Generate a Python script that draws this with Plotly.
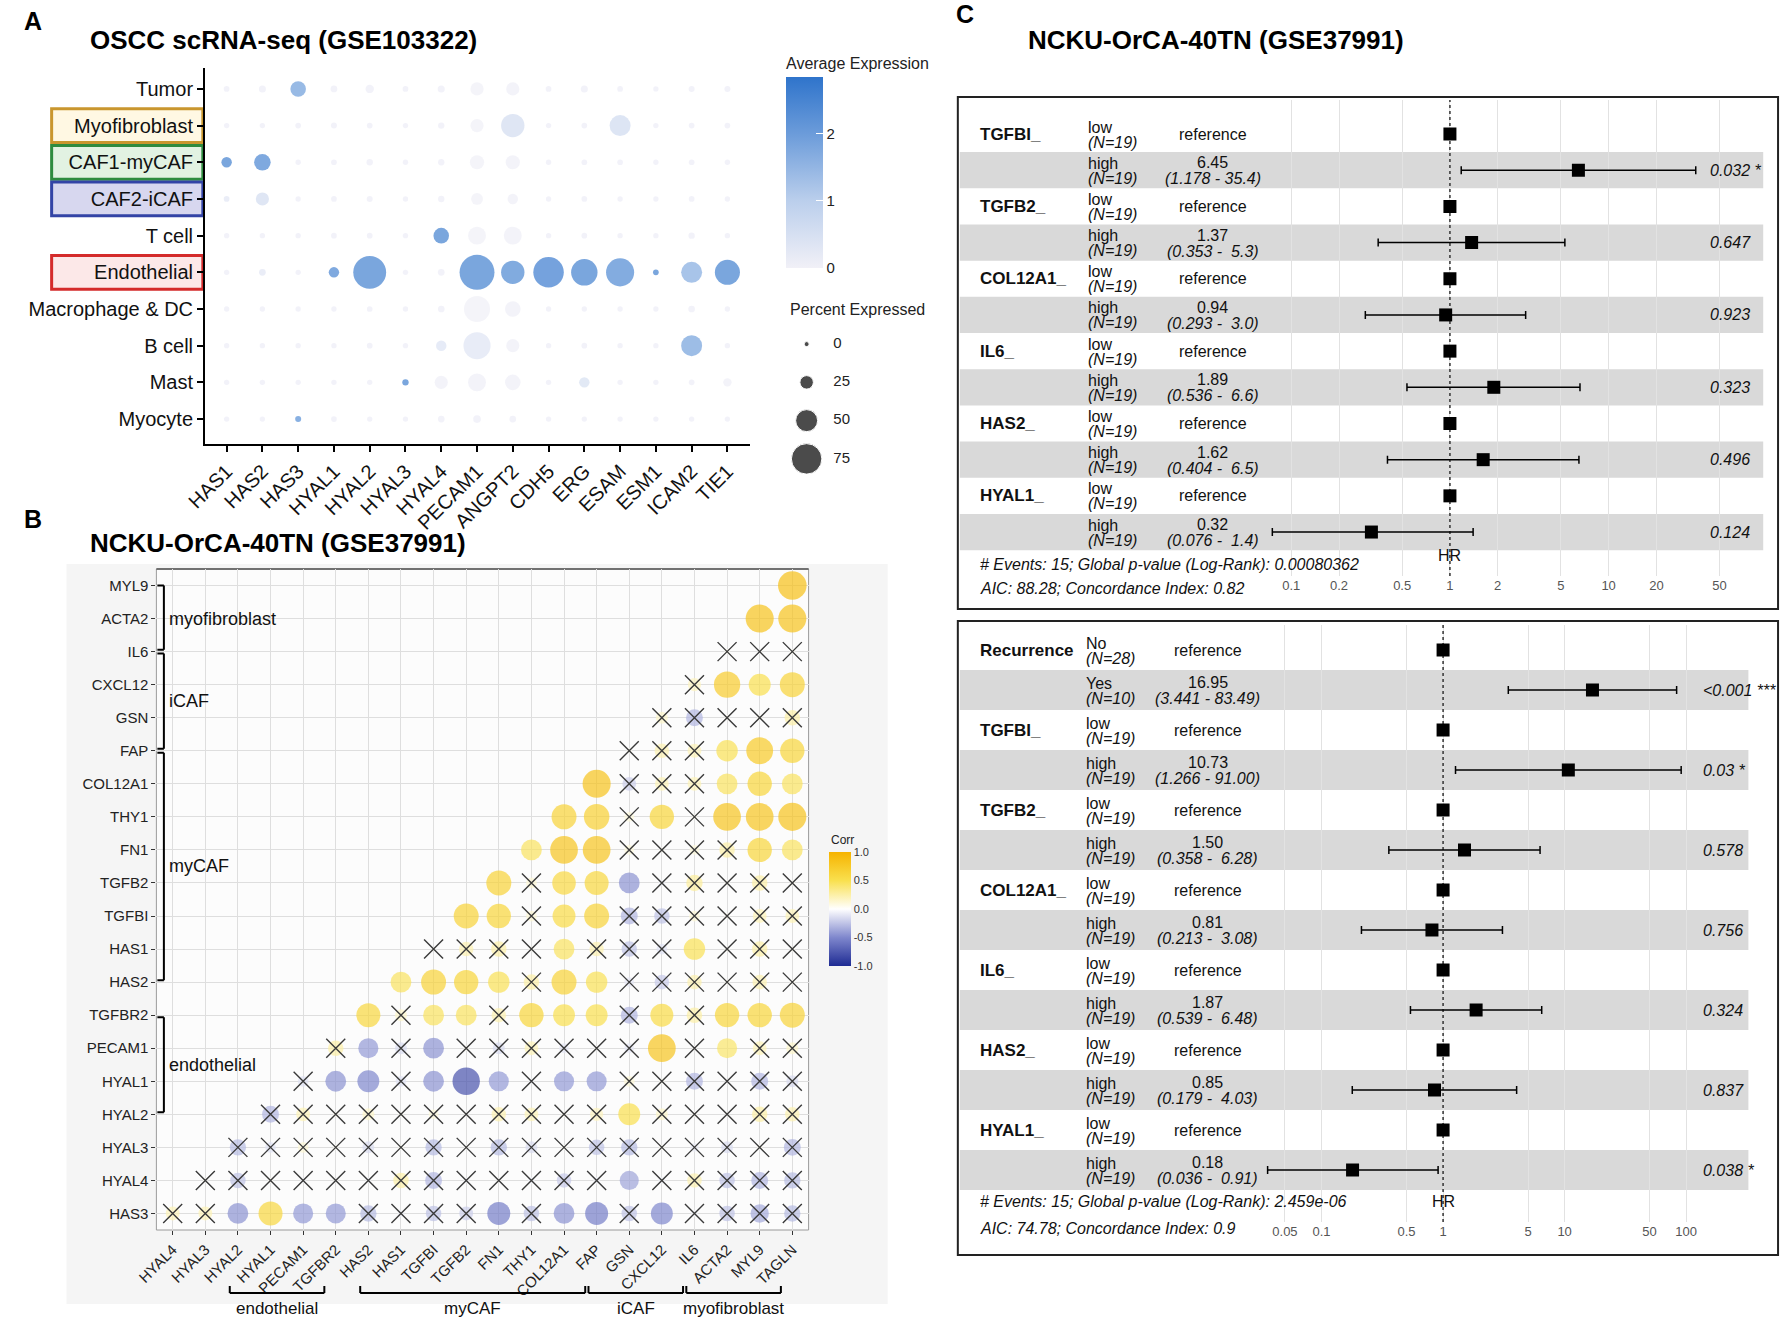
import plotly.graph_objects as go
import math

W, H = 1782, 1323
def px(x): return x / W
def py(y): return 1 - y / H

NARROW = "Liberation Sans Narrow, Arial Narrow, Liberation Sans, Arial, sans-serif"
SANS = "Liberation Sans, Arial, Helvetica, sans-serif"

# ---------------- Panel A data ----------------
genes_A = ["HAS1", "HAS2", "HAS3", "HYAL1", "HYAL2", "HYAL3", "HYAL4", "PECAM1",
           "ANGPT2", "CDH5", "ERG", "ESAM", "ESM1", "ICAM2", "TIE1"]
cells_A = ["Tumor", "Myofibroblast", "CAF1-myCAF", "CAF2-iCAF", "T cell", "Endothelial",
           "Macrophage & DC", "B cell", "Mast", "Myocyte"]
pct_A = [
    [2, 6, 31, 5, 10, 2, 6, 24, 24, 2, 6, 2, 1, 3, 3],
    [1, 1, 2, 3, 2, 1, 4, 24, 54, 1, 2, 47, 1, 2, 2],
    [16, 34, 1, 2, 4, 1, 4, 27, 27, 1, 2, 2, 1, 2, 1],
    [2, 24, 1, 2, 3, 1, 4, 20, 16, 1, 2, 1, 1, 2, 1],
    [1, 1, 1, 2, 2, 1, 31, 38, 38, 1, 2, 1, 1, 4, 1],
    [1, 5, 1, 16, 82, 1, 5, 88, 54, 75, 63, 68, 2, 47, 59],
    [1, 1, 1, 1, 2, 1, 5, 62, 31, 1, 1, 1, 1, 5, 1],
    [1, 1, 1, 1, 2, 1, 16, 65, 24, 1, 2, 1, 1, 47, 1],
    [1, 1, 1, 1, 1, 4, 24, 38, 31, 1, 16, 1, 1, 2, 10],
    [1, 1, 3, 2, 1, 1, 5, 8, 5, 1, 1, 1, 1, 1, 1],
]
avg_A = [
    [0.1, 0.1, 2.0, 0.1, 0.1, 0.1, 0.1, 0.03, 0.05, 0.1, 0.1, 0.1, 0.1, 0.1, 0.1],
    [0.1, 0.1, 0.1, 0.1, 0.1, 0.1, 0.1, 0.03, 0.6, 0.1, 0.1, 0.65, 0.1, 0.1, 0.1],
    [2.6, 2.5, 0.1, 0.1, 0.1, 0.1, 0.1, 0.03, 0.05, 0.1, 0.1, 0.1, 0.1, 0.1, 0.1],
    [0.3, 0.6, 0.1, 0.1, 0.1, 0.1, 0.1, 0.03, 0.05, 0.1, 0.1, 0.1, 0.1, 0.1, 0.1],
    [0.1, 0.1, 0.1, 0.1, 0.1, 0.1, 2.6, 0.03, 0.05, 0.1, 0.1, 0.1, 0.1, 0.1, 0.1],
    [0.1, 0.3, 0.1, 2.5, 2.6, 0.1, 0.1, 2.6, 2.45, 2.7, 2.6, 2.4, 2.6, 1.7, 2.6],
    [0.1, 0.1, 0.1, 0.1, 0.1, 0.1, 0.1, 0.02, 0.05, 0.1, 0.1, 0.1, 0.1, 0.1, 0.1],
    [0.1, 0.1, 0.1, 0.1, 0.1, 0.1, 0.4, 0.35, 0.05, 0.1, 0.1, 0.1, 0.1, 1.9, 0.1],
    [0.1, 0.1, 0.1, 0.1, 0.1, 2.6, 0.05, 0.05, 0.05, 0.1, 0.5, 0.1, 0.1, 0.1, 0.05],
    [0.1, 0.1, 2.3, 0.1, 0.1, 0.1, 0.1, 0.1, 0.1, 0.1, 0.1, 0.1, 0.1, 0.1, 0.1],
]
legend_pct_A = [0, 25, 50, 75]
avg_ticks_A = [0, 1, 2]

# ---------------- Panel B data ----------------
genes_B = ["HAS3", "HYAL4", "HYAL3", "HYAL2", "HYAL1", "PECAM1", "TGFBR2", "HAS2", "HAS1",
           "TGFBI", "TGFB2", "FN1", "THY1", "COL12A1", "FAP", "GSN", "CXCL12", "IL6",
           "ACTA2", "MYL9", "TAGLN"]
rows_B = genes_B[:20]   # bottom -> top
cols_B = genes_B[1:]    # left -> right
# corr_B[i] : correlations of row gene i with columns k = i..19
corr_B = [
    [0.2, 0.2, -0.45, 0.6, -0.42, -0.42, -0.28, -0.05, -0.25, -0.2, -0.55, -0.25, -0.45, -0.55, -0.25, -0.5, -0.05, -0.25, -0.35, -0.28],
    [0.02, -0.25, 0.03, -0.03, 0.02, -0.03, 0.25, -0.3, -0.03, 0.02, -0.05, -0.22, -0.05, -0.38, -0.05, 0.22, -0.25, -0.3, -0.28],
    [-0.28, -0.12, 0.12, 0.03, -0.15, 0.03, -0.28, 0.02, -0.28, -0.15, 0.03, -0.25, -0.28, 0.03, -0.08, -0.15, 0.03, -0.3],
    [-0.3, 0.2, 0.03, 0.15, 0.03, 0.1, 0.02, 0.22, 0.2, 0.03, 0.18, 0.5, 0.15, 0.03, 0.02, 0.25, 0.22],
    [-0.12, -0.45, -0.5, -0.12, -0.45, -0.78, -0.42, -0.03, -0.42, -0.42, 0.12, 0.03, -0.3, 0.02, -0.3, -0.15],
    [0.25, -0.42, -0.15, -0.45, 0.03, -0.15, 0.2, -0.1, 0.02, -0.1, 0.8, 0.02, 0.42, 0.2, 0.15],
    [0.6, 0.15, 0.45, 0.45, 0.22, 0.62, 0.5, 0.5, -0.3, 0.55, 0.25, 0.62, 0.62, 0.65],
    [0.45, 0.65, 0.62, 0.48, 0.25, 0.65, 0.48, -0.1, -0.22, 0.22, 0.03, 0.22, 0.03],
    [0.02, 0.22, 0.25, 0.03, 0.45, 0.22, -0.25, -0.12, 0.48, 0.03, 0.25, 0.03],
    [0.65, 0.62, 0.12, 0.55, 0.65, -0.3, -0.25, 0.12, 0.03, 0.2, 0.2],
    [0.65, 0.12, 0.58, 0.6, -0.45, -0.05, 0.28, 0.03, 0.25, 0.03],
    [0.45, 0.8, 0.8, 0.1, 0.03, 0.1, 0.25, 0.62, 0.45],
    [0.65, 0.68, 0.1, 0.62, 0.03, 0.8, 0.8, 0.82],
    [0.82, -0.2, 0.2, 0.2, 0.45, 0.62, 0.45],
    [0.03, 0.22, 0.2, 0.48, 0.75, 0.62],
    [0.15, -0.3, 0.03, 0.03, 0.25],
    [0.18, 0.72, 0.5, 0.65],
    [0.03, 0.02, 0.03],
    [0.82, 0.82],
    [0.85],
]
sig_B = [
    [0, 0, 1, 1, 1, 1, 0, 0, 0, 0, 1, 0, 1, 1, 0, 1, 0, 0, 0, 0],
    [0, 0, 0, 0, 0, 0, 0, 0, 0, 0, 0, 0, 0, 1, 0, 0, 0, 0, 0],
    [0, 0, 0, 0, 0, 0, 0, 0, 0, 0, 0, 0, 0, 0, 0, 0, 0, 0],
    [0, 0, 0, 0, 0, 0, 0, 0, 0, 0, 0, 1, 0, 0, 0, 0, 0],
    [0, 1, 1, 0, 1, 1, 1, 0, 1, 1, 0, 0, 0, 0, 0, 0],
    [0, 1, 0, 1, 0, 0, 0, 0, 0, 0, 1, 0, 1, 0, 0],
    [1, 0, 1, 1, 0, 1, 1, 1, 0, 1, 0, 1, 1, 1],
    [1, 1, 1, 1, 0, 1, 1, 0, 0, 0, 0, 0, 0],
    [0, 0, 0, 0, 1, 0, 0, 0, 1, 0, 0, 0],
    [1, 1, 0, 1, 1, 0, 0, 0, 0, 0, 0],
    [1, 0, 1, 1, 1, 0, 0, 0, 0, 0],
    [1, 1, 1, 0, 0, 0, 0, 1, 1],
    [1, 1, 0, 1, 0, 1, 1, 1],
    [1, 0, 0, 0, 1, 1, 1],
    [0, 0, 0, 1, 1, 1],
    [0, 0, 0, 0, 0],
    [0, 1, 1, 1],
    [0, 0, 0],
    [1, 1],
    [1],
]
groups_B_y = [("myofibroblast", 19, 17), ("iCAF", 17, 14), ("myCAF", 14, 7), ("endothelial", 6, 3)]
groups_B_x = [("endothelial", 2, 5), ("myCAF", 6, 13), ("iCAF", 13, 16), ("myofibroblast", 16, 19)]
corr_ticks = [-1.0, -0.5, 0.0, 0.5, 1.0]

# ---------------- Panel C data ----------------
top_vars = ["TGFBI_", "TGFB2_", "COL12A1_", "IL6_", "HAS2_", "HYAL1_"]
top_levels = [("low", "high")] * 6
top_n = [(19, 19)] * 6
top_hr = [6.45, 1.37, 0.94, 1.89, 1.62, 0.32]
top_lo = [1.178, 0.353, 0.293, 0.536, 0.404, 0.076]
top_hi = [35.4, 5.3, 3.0, 6.6, 6.5, 1.4]
top_p = [0.032, 0.647, 0.923, 0.323, 0.496, 0.124]
top_ticks = [0.1, 0.2, 0.5, 1, 2, 5, 10, 20, 50]
top_notes = ["# Events: 15; Global p-value (Log-Rank): 0.00080362",
             "AIC: 88.28; Concordance Index: 0.82"]

bot_vars = ["Recurrence", "TGFBI_", "TGFB2_", "COL12A1_", "IL6_", "HAS2_", "HYAL1_"]
bot_levels = [("No", "Yes")] + [("low", "high")] * 6
bot_n = [(28, 10)] + [(19, 19)] * 6
bot_hr = [16.95, 10.73, 1.50, 0.81, 1.87, 0.85, 0.18]
bot_lo = [3.441, 1.266, 0.358, 0.213, 0.539, 0.179, 0.036]
bot_hi = [83.49, 91.00, 6.28, 3.08, 6.48, 4.03, 0.91]
bot_p = [0.0004, 0.03, 0.578, 0.756, 0.324, 0.837, 0.038]
bot_ticks = [0.05, 0.1, 0.5, 1, 5, 10, 50, 100]
bot_notes = ["# Events: 15; Global p-value (Log-Rank): 2.459e-06",
             "AIC: 74.78; Concordance Index: 0.9"]

fig = go.Figure()
annotations = []
shapes = []

def ann(text, x, y, xref="paper", yref="paper", size=16, family=NARROW, xanchor="left",
        yanchor="middle", color="#111111", yshift=0, textangle=0):
    annotations.append(dict(text=text, x=x, y=y, xref=xref, yref=yref, showarrow=False,
                            font=dict(size=size, family=family, color=color),
                            xanchor=xanchor, yanchor=yanchor, yshift=yshift, textangle=textangle))

# ================= Panel A =================
def dot_size(p):
    return 5 + 0.34 * p

nA = len(cells_A)
xa, ya, sa, ca = [], [], [], []
for ri in range(nA):
    for gi in range(len(genes_A)):
        xa.append(gi)
        ya.append(nA - 1 - ri)
        sa.append(dot_size(pct_A[ri][gi]))
        ca.append(avg_A[ri][gi])

fig.add_trace(go.Scatter(
    x=xa, y=ya, mode="markers", xaxis="x", yaxis="y", hoverinfo="skip",
    marker=dict(size=sa, color=ca, cmin=0, cmax=2.85,
                colorscale=[[0, "#F1F0F7"], [0.35, "#BBCFEC"], [0.7, "#6C9CDA"], [1, "#2F74CB"]],
                line=dict(width=0),
                colorbar=dict(x=px(774), xanchor="left", y=py(77), yanchor="top",
                              len=191, lenmode="pixels", thickness=37, thicknessmode="pixels",
                              xpad=0, ypad=0, outlinewidth=0, tickvals=avg_ticks_A,
                              ticks="inside", ticklen=7, tickcolor="white",
                              tickfont=dict(family=NARROW, size=15, color="#222")))))

# percent legend
fig.add_trace(go.Scatter(
    x=[0.2] * len(legend_pct_A), y=[len(legend_pct_A) - 1 - i for i in range(len(legend_pct_A))],
    mode="markers", xaxis="x5", yaxis="y5", hoverinfo="skip",
    marker=dict(size=[dot_size(p) for p in legend_pct_A], color="black")))
fig.add_trace(go.Scatter(
    x=[0.47] * len(legend_pct_A), y=[len(legend_pct_A) - 1 - i for i in range(len(legend_pct_A))],
    mode="text", text=[str(p) for p in legend_pct_A], textposition="middle right",
    xaxis="x5", yaxis="y5", hoverinfo="skip",
    textfont=dict(family=NARROW, size=15, color="#222")))

ann("<b>A</b>", px(1), py(21), size=25, family=SANS, color="black")
ann("<b>OSCC scRNA-seq (GSE103322)</b>", px(68), py(40), size=26, family=SANS, color="black")
ann("Average Expression", px(772), py(63), size=16, color="#222")
ann("Percent Expressed", px(776), py(310), size=16, color="#222")

box_specs = [("Myofibroblast", "#C9962E", "#FFF8E3"), ("CAF1-myCAF", "#2E8B3F", "#E2F2E2"),
             ("CAF2-iCAF", "#3344A6", "#D7D7EF"), ("Endothelial", "#D42B2B", "#FCE8E8")]
for name, lc, fc in box_specs:
    yv = nA - 1 - cells_A.index(name)
    shapes.append(dict(type="rect", xref="paper", yref="y", x0=px(31), x1=px(184),
                       y0=yv - 0.46, y1=yv + 0.46, line=dict(color=lc, width=3),
                       fillcolor=fc, layer="below"))

# ================= Panel B =================
shapes.append(dict(type="rect", xref="paper", yref="paper", x0=px(46), x1=px(877),
                   y0=py(1304), y1=py(564), fillcolor="#F5F5F5", line=dict(width=0), layer="below"))
shapes.append(dict(type="rect", xref="paper", yref="paper", x0=px(137), x1=px(797),
                   y0=py(1230), y1=py(569), fillcolor="#FCFCFC", line=dict(color="#9A9A9A", width=1),
                   layer="below"))
shapes.append(dict(type="line", xref="paper", yref="paper", x0=px(137), x1=px(797),
                   y0=py(569), y1=py(569), line=dict(color="#555555", width=1.5), layer="below"))

cx, cy, cs, cc, nx_, ny_ = [], [], [], [], [], []
for i in range(20):
    for j, r in enumerate(corr_B[i]):
        k = i + j
        cx.append(k)
        cy.append(i)
        cs.append(31 * math.sqrt(abs(r)))
        cc.append(r)
        if not sig_B[i][j]:
            nx_.append(k)
            ny_.append(i)

fig.add_trace(go.Scatter(
    x=cx, y=cy, mode="markers", xaxis="x2", yaxis="y2", hoverinfo="skip",
    marker=dict(size=cs, color=cc, cmin=-1, cmax=1, line=dict(width=0),
                colorscale=[[0, "#1E2B93"], [0.25, "#7F87CD"], [0.5, "#FFFFFF"],
                            [0.75, "#F9E04E"], [1, "#F6B300"]],
                colorbar=dict(x=px(818), xanchor="left", y=py(852), yanchor="top",
                              len=114, lenmode="pixels", thickness=22, thicknessmode="pixels",
                              xpad=0, ypad=0, outlinewidth=0, tickvals=corr_ticks,
                              ticktext=["%.1f" % t for t in corr_ticks], ticks="",
                              tickfont=dict(family=SANS, size=11, color="#333")))))
fig.add_trace(go.Scatter(
    x=nx_, y=ny_, mode="markers", xaxis="x2", yaxis="y2", hoverinfo="skip",
    marker=dict(symbol="x-thin", size=19, line=dict(width=1.4, color="#3A3A3A"))))

ann("<b>B</b>", px(1), py(519), size=25, family=SANS, color="black")
ann("<b>NCKU-OrCA-40TN (GSE37991)</b>", px(68), py(543), size=26, family=SANS, color="black")
ann("Corr", px(818), py(840), size=12, family=SANS, color="#222")

for name, top, bot in groups_B_y:
    t = top - (0.06 if top != 19 else 0)
    b = bot + 0.06
    shapes.append(dict(type="line", xref="x2", yref="y2", x0=-0.27, x1=-0.27, y0=b, y1=t,
                       line=dict(color="black", width=2)))
    for yy in (t, b):
        shapes.append(dict(type="line", xref="x2", yref="y2", x0=-0.47, x1=-0.27, y0=yy, y1=yy,
                           line=dict(color="black", width=2)))
    ann(name, -0.18, (top + bot) / 2, xref="x2", yref="y2", size=18, family=SANS, color="#111")

for name, a, b in groups_B_x:
    x0, x1 = a - 0.3 + 0.05, b - 0.3 - 0.05
    shapes.append(dict(type="line", xref="x2", yref="paper", x0=x0, x1=x1, y0=py(1293), y1=py(1293),
                       line=dict(color="black", width=2)))
    for xx in (x0, x1):
        shapes.append(dict(type="line", xref="x2", yref="paper", x0=xx, x1=xx, y0=py(1293), y1=py(1286),
                           line=dict(color="black", width=2)))
    ann(name, (x0 + x1) / 2, py(1308), xref="x2", size=17, family=SANS, xanchor="center", color="#111")

# ================= Panel C =================
ann("<b>C</b>", px(944), py(14), size=25, family=SANS, color="black")
ann("<b>NCKU-OrCA-40TN (GSE37991)</b>", px(1017), py(40), size=26, family=SANS, color="black")

def forest(xa_name, ya_name, yref, vars_, levels, ns, hr, lo, hi, p, x_var, x_lvl, x_hr, x_p,
           stripe_x1, ci_fmt, yr):
    ref_rows, hi_rows = [], []
    for j, v in enumerate(vars_):
        r0, r1 = 2 * j, 2 * j + 1
        ref_rows.append(r0)
        hi_rows.append(r1)
        shapes.append(dict(type="rect", xref="paper", yref=yref, x0=px(950), x1=px(stripe_x1),
                           y0=r1 - 0.5, y1=r1 + 0.5, fillcolor="#D9D9D9", line=dict(width=0),
                           layer="below"))
        ann("<b>%s</b>" % v, px(x_var), r0, yref=yref, size=17)
        for rr, lv, n in ((r0, levels[j][0], ns[j][0]), (r1, levels[j][1], ns[j][1])):
            ann(lv, px(x_lvl), rr, yref=yref, size=16, yshift=7)
            ann("<i>(N=%d)</i>" % n, px(x_lvl), rr, yref=yref, size=16, yshift=-8)
        ann("reference", px(x_hr), r0, yref=yref, size=16, xanchor="center")
        ann("%.2f" % hr[j], px(x_hr), r1, yref=yref, size=16, xanchor="center", yshift=7.5)
        ci = ci_fmt % (lo[j], hi[j])
        ci = ci.replace("  ", "\u00a0\u00a0")
        ann("<i>%s</i>" % ci, px(x_hr), r1, yref=yref, size=16, xanchor="center", yshift=-8.5)
        stars = ("*" if p[j] < 0.05 else "") + ("*" if p[j] < 0.01 else "") + ("*" if p[j] < 0.001 else "")
        ptxt = "<0.001" if p[j] < 0.001 else str(round(p[j], 3))
        if stars:
            ptxt += " " + stars
        ann("<i>%s</i>" % ptxt.replace("<", "&lt;"), px(x_p), r1, yref=yref, size=16)
    fig.add_trace(go.Scatter(x=[1, 1], y=list(yr), mode="lines", xaxis=xa_name, yaxis=ya_name,
                             hoverinfo="skip", line=dict(color="#333", width=1.5, dash="dot")))
    fig.add_trace(go.Scatter(x=[1] * len(ref_rows), y=ref_rows, mode="markers", xaxis=xa_name,
                             yaxis=ya_name, hoverinfo="skip",
                             marker=dict(symbol="square", size=13, color="black")))
    fig.add_trace(go.Scatter(x=hr, y=hi_rows, mode="markers", xaxis=xa_name, yaxis=ya_name,
                             hoverinfo="skip",
                             marker=dict(symbol="square", size=13, color="black"),
                             error_x=dict(type="data", symmetric=False,
                                          array=[h - m for h, m in zip(hi, hr)],
                                          arrayminus=[m - l for m, l in zip(hr, lo)],
                                          color="black", thickness=1.5, width=4)))

top_yr = (12.215, -0.94)
forest("x3", "y3", "y3", top_vars, top_levels, top_n, top_hr, top_lo, top_hi, top_p,
       968, 1078, 1206, 1707, 1763, "(%.3f - %4.1f)", top_yr)
shapes.append(dict(type="rect", xref="paper", yref="paper", x0=px(948), x1=px(1778),
                   y0=py(609), y1=py(97), line=dict(color="#222", width=2), layer="above"))
ann("<i>%s</i>" % top_notes[0], px(968), py(564), size=16)
ann("<i>%s</i>" % top_notes[1], px(968), py(589), size=16)
ann("HR", px(1446), py(555), size=16, xanchor="center")

bot_yr = (14.3, -0.625)
forest("x4", "y4", "y4", bot_vars, bot_levels, bot_n, bot_hr, bot_lo, bot_hi, bot_p,
       968, 1076, 1201, 1700, 1748, "(%.3f - %5.2f)", bot_yr)
shapes.append(dict(type="rect", xref="paper", yref="paper", x0=px(948), x1=px(1778),
                   y0=py(1255), y1=py(621), line=dict(color="#222", width=2), layer="above"))
ann("<i>%s</i>" % bot_notes[0], px(968), py(1201), size=16)
ann("<i>%s</i>" % bot_notes[1], px(968), py(1228), size=16)
ann("HR", px(1439), py(1201), size=16, xanchor="center")

# ================= Layout =================
def tick_label(v):
    return ("%g" % v)

fig.update_layout(
    width=W, height=H, margin=dict(l=0, r=0, t=0, b=0),
    paper_bgcolor="white", plot_bgcolor="rgba(0,0,0,0)", showlegend=False, hovermode=False,
    font=dict(family=SANS, color="#111"),
    xaxis=dict(domain=[px(186), px(738)], range=[-0.61, 14.64], anchor="y",
               tickvals=list(range(len(genes_A))), ticktext=genes_A, tickangle=-45,
               ticks="outside", ticklen=6, tickwidth=1.5, tickcolor="black",
               showline=True, linecolor="black", linewidth=1.5, showgrid=False, zeroline=False,
               tickfont=dict(family=NARROW, size=20, color="#111")),
    yaxis=dict(domain=[py(444), py(68)], range=[-0.68, 9.57], anchor="x",
               tickvals=list(range(nA)), ticktext=cells_A[::-1],
               ticks="outside", ticklen=6, tickwidth=1.5, tickcolor="black",
               showline=True, linecolor="black", linewidth=1.5, showgrid=False, zeroline=False,
               tickfont=dict(family=NARROW, size=20, color="#111")),
    xaxis2=dict(domain=[px(137), px(797)], range=[-0.5, 19.5], anchor="y2",
                tickvals=list(range(20)), ticktext=cols_B, tickangle=-45,
                ticks="outside", ticklen=4, tickcolor="#333", showline=False,
                showgrid=True, gridcolor="#DEDEDE", gridwidth=1, zeroline=False,
                tickfont=dict(family=SANS, size=15, color="#222")),
    yaxis2=dict(domain=[py(1230), py(569)], range=[-0.5, 19.5], anchor="x2",
                tickvals=list(range(20)), ticktext=rows_B,
                ticks="outside", ticklen=4, tickcolor="#333", showline=False,
                showgrid=True, gridcolor="#DEDEDE", gridwidth=1, zeroline=False,
                tickfont=dict(family=SANS, size=15, color="#222")),
    xaxis3=dict(type="log", domain=[px(1250), px(1762)], range=[-1.2204, 1.968], anchor="y3",
                tickvals=top_ticks, ticktext=[tick_label(v) for v in top_ticks], ticks="",
                showline=False, showgrid=True, gridcolor="#E2E2E2", zeroline=False,
                tickfont=dict(family=NARROW, size=13, color="#555")),
    yaxis3=dict(domain=[py(576), py(100)], range=list(top_yr), anchor="x3",
                showticklabels=False, showgrid=False, zeroline=False, ticks=""),
    xaxis4=dict(type="log", domain=[px(1250), px(1762)], range=[-1.537, 2.626], anchor="y4",
                tickvals=bot_ticks, ticktext=[tick_label(v) for v in bot_ticks], ticks="",
                showline=False, showgrid=True, gridcolor="#E2E2E2", zeroline=False,
                tickfont=dict(family=NARROW, size=13, color="#555")),
    yaxis4=dict(domain=[py(1222), py(625)], range=list(bot_yr), anchor="x4",
                showticklabels=False, showgrid=False, zeroline=False, ticks=""),
    xaxis5=dict(domain=[px(775), px(875)], range=[0, 1], anchor="y5", visible=False),
    yaxis5=dict(domain=[py(478), py(325)], range=[-0.5, 3.5], anchor="x5", visible=False),
    annotations=annotations, shapes=shapes,
)

fig.write_html("out.html", config={"displayModeBar": False},
               post_script="document.body.style.margin='0px';document.body.style.overflow='hidden';")
